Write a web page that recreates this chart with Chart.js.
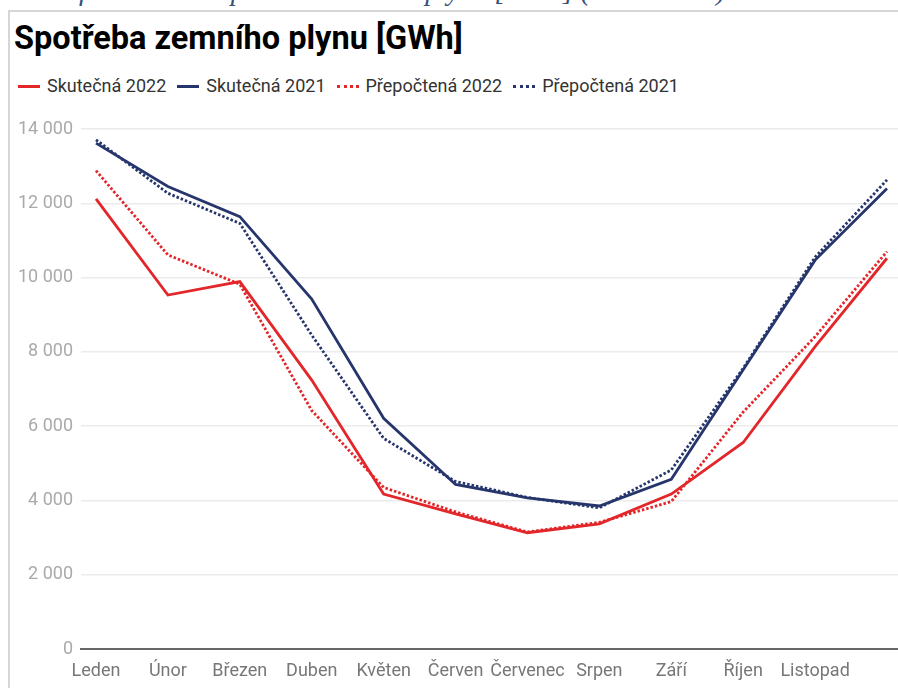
<!DOCTYPE html>
<html lang="cs">
<head>
<meta charset="utf-8">
<title>Spotřeba zemního plynu</title>
<script src="https://cdn.jsdelivr.net/npm/chart.js@4.4.0/dist/chart.umd.min.js"></script>
<style>
    html, body {
        margin: 0;
        padding: 0;
        width: 898px;
        height: 688px;
        overflow: hidden;
        background: #fff;
    }
    .popisek {
        position: absolute;
        left: 34px;
        top: -23px;
        font: italic 28px/28px "Liberation Serif", serif;
        color: #35507c;
        white-space: nowrap;
    }
    .ramec {
        position: absolute;
        left: 8px;
        top: 10px;
        width: 920px;
        height: 700px;
        border-left: 2px solid #d6d6d6;
        border-top: 2px solid #d6d6d6;
    }
    .ramec h1 {
        position: absolute;
        left: 4px;
        top: 10px;
        margin: 0;
        font: 700 32.5px/32px Roboto, sans-serif;
        color: #000;
        white-space: nowrap;
    }
    #legenda {
        position: absolute;
        left: 8px;
        top: 65px;
        display: flex;
        align-items: center;
        font: 18px/18px Roboto, sans-serif;
        color: #333;
        white-space: nowrap;
    }
    #legenda .polozka {
        display: flex;
        align-items: center;
        margin-right: 11px;
    }
    #legenda .znacka {
        display: inline-block;
        width: 22px;
        height: 0;
        margin-right: 7px;
    }
    .graf {
        position: absolute;
        left: 2px;
        top: 98px;
        width: 886px;
        height: 580px;
    }
</style>
</head>
<body>
<div class="popisek">Graf 3: Měsíční spotřeba zemního plynu [GWh] (2021–2022)</div>
<div class="ramec">
    <h1>Spotřeba zemního plynu [GWh]</h1>
    <div id="legenda"></div>
    <div class="graf"><canvas id="grafPlyn"></canvas></div>
</div>

<script>
// Měsíce (kategorie osy X)
const mesice = ['Leden', 'Únor', 'Březen', 'Duben', 'Květen', 'Červen', 'Červenec', 'Srpen', 'Září', 'Říjen', 'Listopad', 'Prosinec'];
// Popisky osy X, které jsou v obrázku vidět (prosinec je oříznutý)
const popiskyOsyX = ['Leden', 'Únor', 'Březen', 'Duben', 'Květen', 'Červen', 'Červenec', 'Srpen', 'Září', 'Říjen', 'Listopad'];

// Spotřeba v GWh
const skutecna2022 = [12120, 9530, 9890, 7240, 4170, 3640, 3130, 3370, 4170, 5560, 8140, 10520];
const skutecna2021 = [13620, 12450, 11640, 9420, 6210, 4430, 4070, 3850, 4570, 7520, 10470, 12400];
const prepoctena2022 = [12880, 10610, 9820, 6420, 4350, 3690, 3150, 3410, 3970, 6380, 8410, 10700];
const prepoctena2021 = [13710, 12270, 11460, 8450, 5670, 4510, 4080, 3800, 4820, 7560, 10550, 12630];

// Hodnoty osy Y
const osaYMin = 0;
const osaYMax = 14000;
const osaYKrok = 2000;

const cervena = '#e2262a';
const modra = '#26366c';

const rady = [
    { nazev: 'Skutečná 2022', hodnoty: skutecna2022, barva: cervena, teckovana: false },
    { nazev: 'Skutečná 2021', hodnoty: skutecna2021, barva: modra, teckovana: false },
    { nazev: 'Přepočtená 2022', hodnoty: prepoctena2022, barva: cervena, teckovana: true },
    { nazev: 'Přepočtená 2021', hodnoty: prepoctena2021, barva: modra, teckovana: true },
];

// Formát čísla s mezerou mezi tisíci
function formatCislo(v) {
    return String(v).replace(/\B(?=(\d{3})+(?!\d))/g, ' ');
}

// Legenda v HTML
function vytvorLegendu() {
    const legenda = document.getElementById('legenda');
    rady.forEach(r => {
        const polozka = document.createElement('div');
        polozka.className = 'polozka';
        const znacka = document.createElement('span');
        znacka.className = 'znacka';
        znacka.style.borderTop = `3px ${r.teckovana ? 'dotted' : 'solid'} ${r.barva}`;
        polozka.appendChild(znacka);
        polozka.appendChild(document.createTextNode(r.nazev));
        legenda.appendChild(polozka);
    });
}

function vytvorGraf() {
    const ctx = document.getElementById('grafPlyn').getContext('2d');

    const datasets = rady.map(r => ({
        label: r.nazev,
        data: r.hodnoty.map((v, i) => ({ x: i, y: v })),
        borderColor: r.barva,
        backgroundColor: r.barva,
        borderWidth: 2.8,
        borderDash: r.teckovana ? [2.5, 2] : [],
        pointRadius: 0,
        tension: 0,
        fill: false,
    }));

    new Chart(ctx, {
        type: 'line',
        data: { datasets },
        options: {
            responsive: true,
            maintainAspectRatio: false,
            animation: false,
            layout: { padding: { top: 19, left: 0, right: 0, bottom: 0 } },
            plugins: {
                legend: { display: false },
                tooltip: { enabled: false },
            },
            scales: {
                x: {
                    type: 'linear',
                    min: -0.2086,
                    max: 11.153,
                    afterBuildTicks: scale => {
                        scale.ticks = mesice.map((_, i) => ({ value: i }));
                    },
                    afterFit: scale => { scale.height = 41; },
                    ticks: {
                        callback: v => popiskyOsyX[v] ?? '',
                        autoSkip: false,
                        maxRotation: 0,
                        padding: 4,
                        color: '#777',
                        font: { family: 'Roboto', size: 18 },
                    },
                    grid: { display: false },
                    border: { display: true, color: '#666', width: 2 },
                },
                y: {
                    min: osaYMin,
                    max: osaYMax,
                    afterFit: scale => { scale.width = 69; },
                    ticks: {
                        stepSize: osaYKrok,
                        padding: 8,
                        callback: v => formatCislo(v),
                        color: '#aaa',
                        font: { family: 'Roboto', size: 18 },
                    },
                    grid: { color: '#ebebeb', lineWidth: 1.5, drawTicks: false },
                    border: { display: false },
                },
            },
        },
    });
}

document.addEventListener('DOMContentLoaded', () => {
    vytvorLegendu();
    vytvorGraf();
});
</script>
</body>
</html>
